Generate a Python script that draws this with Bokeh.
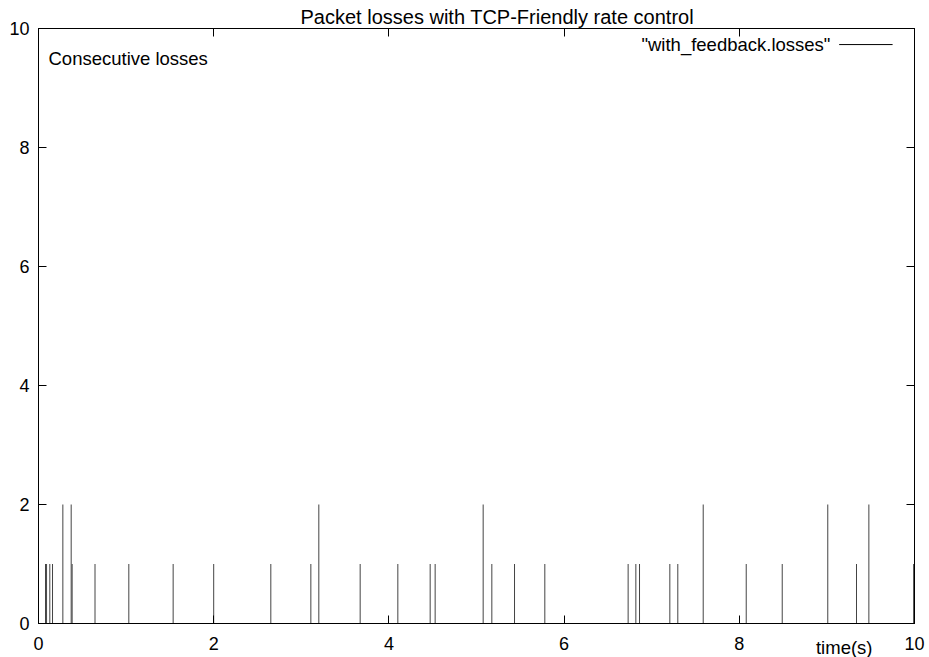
from bokeh.plotting import figure
from bokeh.models import Label, LinearAxis, FixedTicker, Range1d, ColumnDataSource, Title
from bokeh.embed import file_html
from bokeh.resources import INLINE

# ---- data ----
loss_times = [0.080, 0.092, 0.129, 0.160, 0.278, 0.373, 0.384, 0.645, 1.031, 1.537,
              2.000, 2.652, 3.109, 3.200, 3.672, 4.102, 4.471, 4.528, 5.076, 5.175,
              5.434, 5.780, 6.731, 6.819, 6.861, 7.207, 7.298, 7.588, 8.079, 8.490,
              9.010, 9.338, 9.479, 9.990]
consecutive_losses = [1, 1, 1, 1, 2, 2, 1, 1, 1, 1,
                      1, 1, 1, 2, 1, 1, 1, 1, 2, 1,
                      1, 1, 1, 1, 1, 1, 1, 2, 1, 1,
                      2, 1, 2, 1]
x_ticks = [0, 2, 4, 6, 8, 10]
y_ticks = [0, 2, 4, 6, 8, 10]

title_text = "Packet losses with TCP-Friendly rate control"
ylabel_text = "Consecutive losses"
xlabel_text = "time(s)"
series_name = '"with_feedback.losses"'

FONT = "Liberation Sans"
FS = "18px"

src = ColumnDataSource(dict(x=loss_times, y=consecutive_losses,
                            y0=[0] * len(loss_times)))

p = figure(width=929, height=657, output_backend="svg", toolbar_location=None,
           x_range=Range1d(0, 10), y_range=Range1d(0, 10),
           min_border_left=38, min_border_right=15, min_border_top=28,
           min_border_bottom=34, background_fill_color="white",
           border_fill_color="white")

p.segment(x0="x", y0="y0", x1="x", y1="y", source=src,
          line_color="#444444", line_width=1)

p.xgrid.visible = False
p.ygrid.visible = False
p.outline_line_color = "black"
p.outline_line_width = 1

def style_axis(ax, ticks, show_labels, standoff):
    ax.ticker = FixedTicker(ticks=ticks)
    ax.major_tick_in = 8
    ax.major_tick_out = 0
    ax.minor_tick_line_color = None
    ax.axis_line_color = "black"
    ax.major_tick_line_color = "black"
    ax.major_label_standoff = standoff
    if show_labels:
        ax.major_label_text_font = FONT
        ax.major_label_text_font_size = FS
        ax.major_label_text_color = "black"
    else:
        ax.major_label_text_font_size = "0px"

xa = p.below[0]
ya = p.left[0]
style_axis(xa, x_ticks, True, 13)
style_axis(ya, y_ticks, True, 9)

top_ax = LinearAxis()
style_axis(top_ax, x_ticks, False, 0)
p.add_layout(top_ax, "above")
right_ax = LinearAxis()
style_axis(right_ax, y_ticks, False, 0)
p.add_layout(right_ax, "right")

# title
p.title.text = title_text
p.title.align = "left"
p.title.offset = 262
p.title.text_font = FONT
p.title.text_font_size = "20px"
p.title.text_font_style = "normal"
p.title.text_color = "black"
p.title.standoff = 2

# x label, right side under the axis (gnuplot style)
xlab = Title(text=xlabel_text, align="right", offset=42, standoff=-31,
             vertical_align="top",
             text_font=FONT, text_font_size="18.5px", text_font_style="normal",
             text_color="black")
p.add_layout(xlab, "below")

# y label (gnuplot places it inside, top-left)
p.add_layout(Label(x=0.114, y=9.50, text=ylabel_text, text_align="left",
                   text_baseline="middle", text_font=FONT, text_font_size="18.5px",
                   text_color="black"))
# key
p.add_layout(Label(x=9.04, y=9.73, text=series_name, text_align="right",
                   text_baseline="middle", text_font=FONT, text_font_size="18.5px",
                   text_color="black"))
p.segment(x0=[9.14], y0=[9.73], x1=[9.75], y1=[9.73], line_color="black",
          line_width=1)

open("out.html", "w").write(file_html(p, INLINE))
